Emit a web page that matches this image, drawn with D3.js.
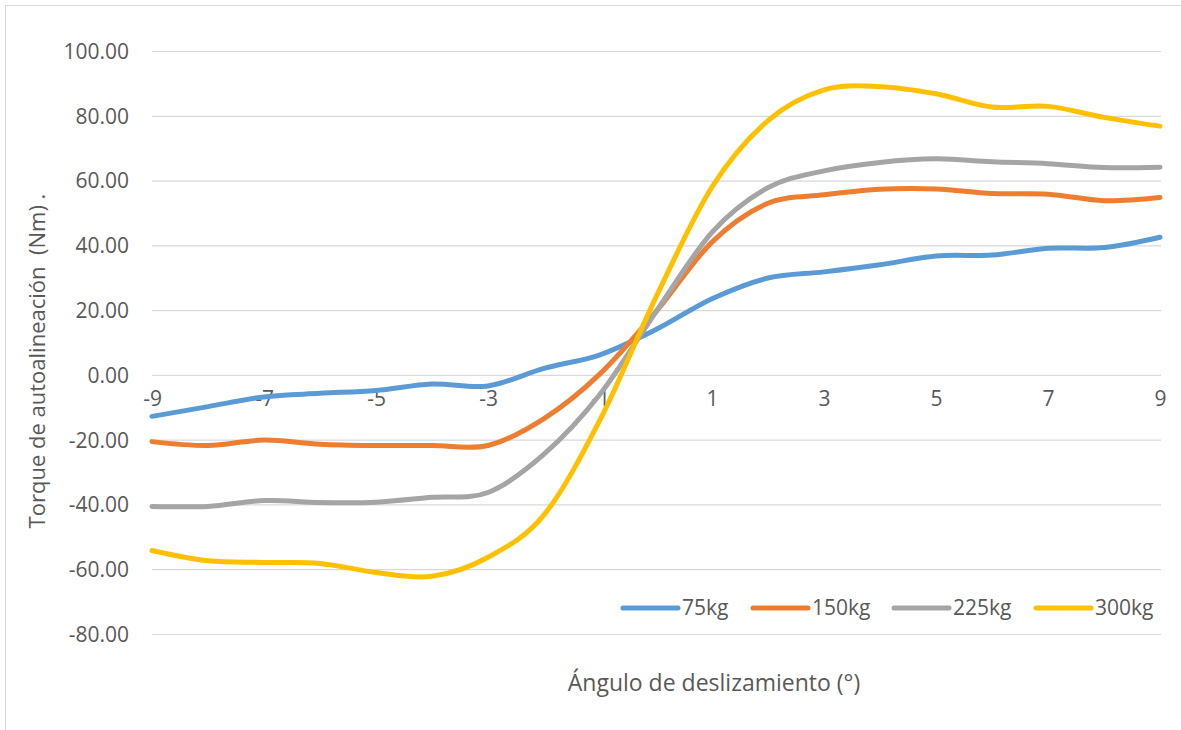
<!DOCTYPE html>
<html><head><meta charset="utf-8">
<script src="https://cdn.jsdelivr.net/npm/d3@7"></script>
<style>body{margin:0;background:#fff}svg{display:block}text{font-family:"Open Sans",sans-serif;fill:#595959}</style>
</head><body><svg id="c" width="1181" height="730"></svg>
<script>
const angles = [-9,-8,-7,-6,-5,-4,-3,-2,-1,0,1,2,3,4,5,6,7,8,9];
const xTickLabels = [-9,-7,-5,-3,-1,1,3,5,7,9];
const yTicks = [-80,-60,-40,-20,0,20,40,60,80,100];
const seriesNames = ["75kg","150kg","225kg","300kg"];
const seriesColors = ["#5B9BD5","#ED7D31","#A5A5A5","#FFC000"];
const s75 = [-12.8,-9.8,-6.8,-5.7,-4.8,-2.8,-3.4,2.0,6.2,14.0,23.5,29.9,31.8,34.0,36.7,37.0,39.1,39.3,42.5];
const s150 = [-20.6,-21.8,-20.1,-21.4,-21.8,-21.8,-21.8,-13.5,0.3,19.5,41.0,53.0,55.6,57.3,57.4,56.0,55.8,53.8,54.8];
const s225 = [-40.6,-40.6,-38.8,-39.4,-39.3,-37.8,-36.3,-24.5,-6.0,19.5,44.0,57.8,63.0,65.6,66.7,65.8,65.2,64.0,64.1];
const s300 = [-54.2,-57.4,-57.9,-58.2,-61.0,-62.2,-56.3,-43.2,-13.9,24.0,58.0,78.5,88.0,89.0,86.8,82.7,82.9,79.5,76.8];
const seriesValues = [s75,s150,s225,s300];

const svg = d3.select("#c");
svg.append("rect").attr("x",5.5).attr("y",5.5).attr("width",1190).attr("height",740)
  .attr("fill","#fff").attr("stroke","#D9D9D9").attr("stroke-width",1);

const x = d3.scaleLinear().domain([-9,9]).range([152,1160]);
const y = d3.scaleLinear().domain([-80,100]).range([634,51]);

// gridlines + y labels
const yAxis = d3.axisLeft(y).tickValues(yTicks).tickSize(-1009).tickFormat(d => d.toFixed(2));
const gy = svg.append("g").attr("transform","translate(152,0)").call(yAxis);
gy.select(".domain").remove();
gy.selectAll(".tick line").attr("stroke","#D9D9D9").attr("stroke-width",1.2);
gy.selectAll(".tick text").attr("x",-23).attr("dy","0.35em").style("font-size","21px").attr("fill","#595959");

// x labels along zero line
const xAxis = d3.axisBottom(x).tickValues(xTickLabels).tickSize(0).tickFormat(d => String(d));
const gx = svg.append("g").attr("transform",`translate(0,${y(0)})`).call(xAxis);
gx.select(".domain").remove();
gx.selectAll(".tick text").attr("y",0).attr("dy","1.5em").style("font-size","21px").attr("fill","#595959");

const line = d3.line().x((d,i)=>x(angles[i])).y(d=>y(d)).curve(d3.curveCardinal.tension(0));
seriesValues.forEach((vals,k)=>{
  svg.append("path").datum(vals).attr("d",line).attr("fill","none")
    .attr("stroke",seriesColors[k]).attr("stroke-width",5).attr("stroke-linecap","round");
});

// legend
const legX = [623,753,894,1036];
seriesNames.forEach((n,k)=>{
  svg.append("line").attr("x1",legX[k]).attr("x2",legX[k]+55).attr("y1",608).attr("y2",608)
    .attr("stroke",seriesColors[k]).attr("stroke-width",5).attr("stroke-linecap","round");
  svg.append("text").attr("x",legX[k]+59).attr("y",608).attr("dy","0.35em").style("font-size","21px").text(n);
});

// axis titles
svg.append("text").attr("x",714).attr("y",683).attr("dy","0.35em").attr("text-anchor","middle")
  .style("font-size","23px").text("Ángulo de deslizamiento (°)");
svg.append("text").attr("transform","translate(37,361) rotate(-90)").attr("dy","0.35em").attr("text-anchor","middle")
  .attr("xml:space","preserve").style("white-space","pre")
  .style("font-size","22px").text("Torque de autoalineación  (Nm) .");
</script></body></html>
